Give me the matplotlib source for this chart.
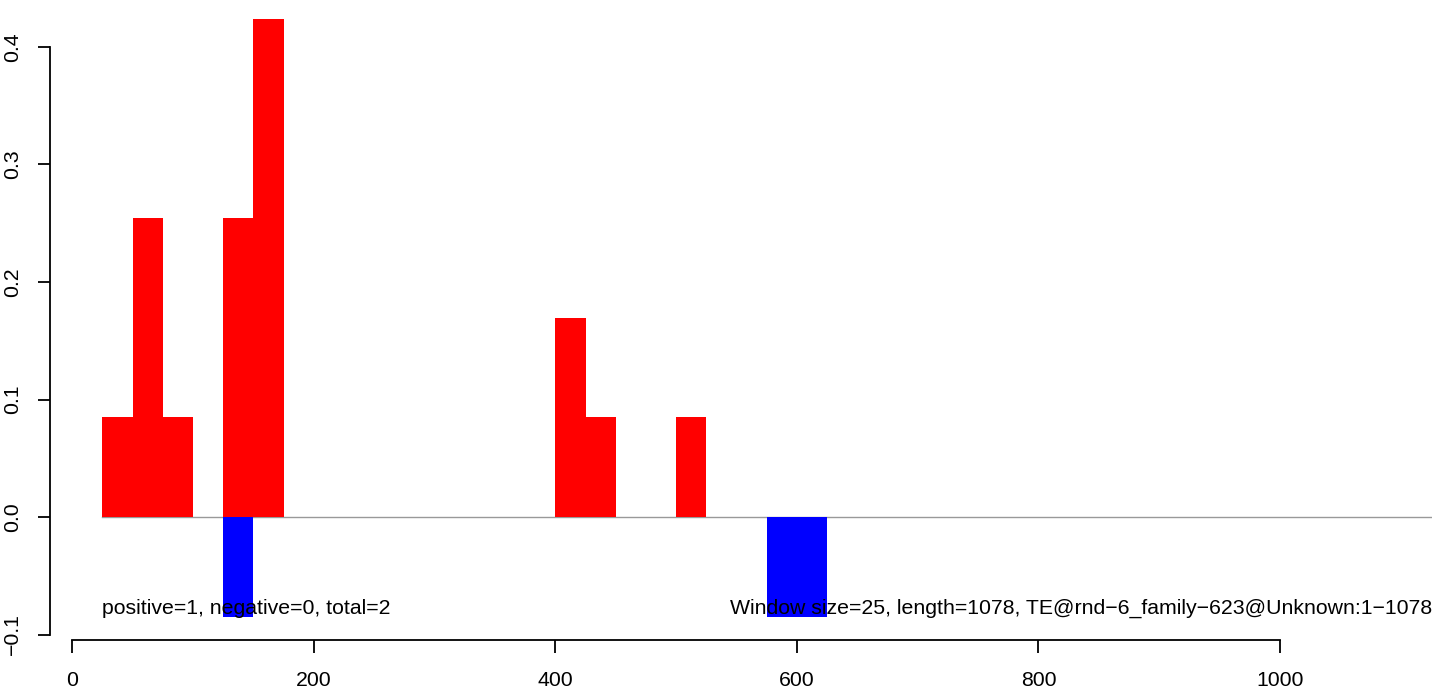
import matplotlib
matplotlib.use("Agg")
import matplotlib.pyplot as plt

plt.rcParams['font.family'] = ['Liberation Sans', 'DejaVu Sans']

window_size = 25
pos_starts = [25, 50, 75, 125, 150, 400, 425, 500]
pos_values = [0.0847, 0.2542, 0.0847, 0.2542, 0.4237, 0.1695, 0.0847, 0.0847]
neg_starts = [125, 575, 600]
neg_values = [-0.0847, -0.0847, -0.0847]
x_ticks = [0, 200, 400, 600, 800, 1000]
y_ticks = [-0.1, 0.0, 0.1, 0.2, 0.3, 0.4]
left_text = "positive=1, negative=0, total=2"
right_text = "Window size=25, length=1078, TE@rnd\u22126_family\u2212623@Unknown:1\u22121078"

W, H = 1444, 688
fig = plt.figure(figsize=(W / 100, H / 100), dpi=100)

xlim = (-18.5, 1125.9)
ylim = (-0.1048, 0.444)
x0_px = 72.3
px_per_x = 1.2077
px_per_y = 1175.0
left_px = x0_px + xlim[0] * px_per_x
right_px = x0_px + xlim[1] * px_per_x
bottom_px = 517 - ylim[0] * px_per_y
top_px = 517 - ylim[1] * px_per_y
ax = fig.add_axes([left_px / W, 1 - bottom_px / H,
                   (right_px - left_px) / W, (bottom_px - top_px) / H])
ax.set_xlim(*xlim)
ax.set_ylim(*ylim)

ax.plot([pos_starts[0], xlim[1]], [0, 0], color='#999999', lw=1.0, zorder=1)
ax.bar(pos_starts, pos_values, width=window_size, align='edge',
       color='#FF0000', linewidth=0, zorder=2)
ax.bar(neg_starts, neg_values, width=window_size, align='edge',
       color='#0000FF', linewidth=0, zorder=2)

fs = 15.3
ax.text(pos_starts[0], -0.0775, left_text, ha='left', va='center', fontsize=fs, zorder=3)
ax.text(xlim[1], -0.0775, right_text, ha='right', va='center', fontsize=fs, zorder=3)

for s in ['top', 'right']:
    ax.spines[s].set_visible(False)
ax.spines['left'].set_bounds(-0.1, 0.4)
ax.spines['bottom'].set_bounds(0, 1000)
ax.spines['left'].set_linewidth(1.3)
ax.spines['bottom'].set_linewidth(1.3)

ax.set_xticks(x_ticks)
ax.set_xticklabels([str(v) for v in x_ticks])
ax.set_yticks(y_ticks)
ax.set_yticklabels([f"{v:.1f}".replace('-', '\u2212') for v in y_ticks],
                   rotation=90, va='center')
ax.tick_params(axis='both', length=9, width=1.3, labelsize=fs, direction='out')
ax.tick_params(axis='x', pad=13)
ax.tick_params(axis='y', pad=11)

fig.savefig('out.png', dpi=100)
